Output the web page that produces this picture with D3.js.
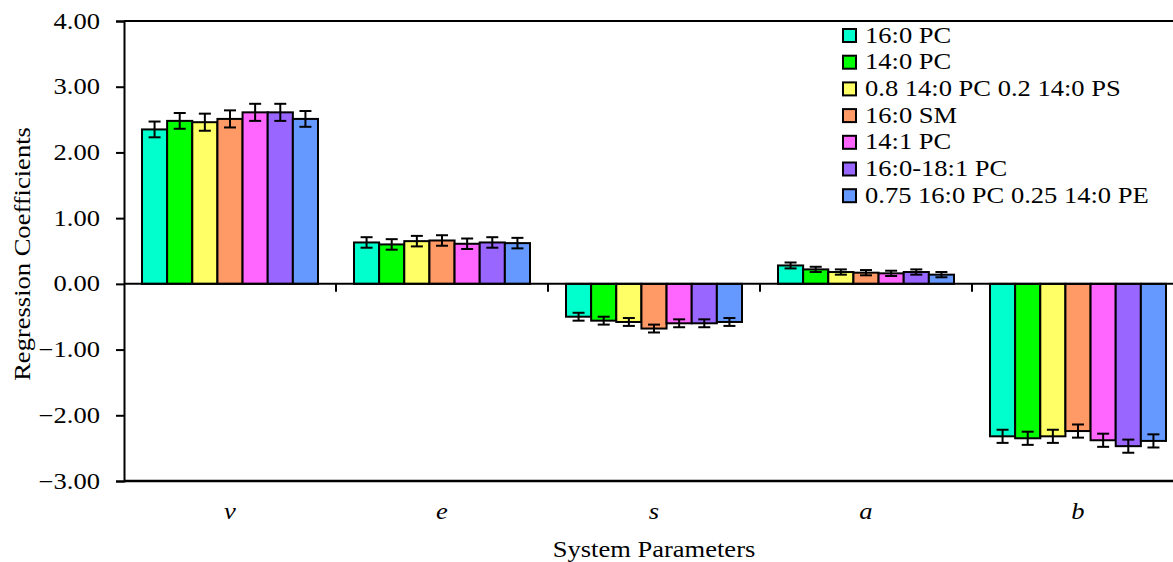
<!DOCTYPE html>
<html>
<head>
<meta charset="utf-8">
<script src="https://cdn.jsdelivr.net/npm/d3@7"></script>
<style>
  html, body { margin: 0; padding: 0; background: #fff; }
  svg text { font-family: "Liberation Serif", "Times New Roman", Tinos, "DejaVu Serif", serif; fill: #000; }
</style>
</head>
<body>
<div id="chart"></div>
<script>
const categories = ['v', 'e', 's', 'a', 'b']
const seriesNames = [
  '16:0 PC',
  '14:0 PC',
  '0.8 14:0 PC 0.2 14:0 PS',
  '16:0 SM',
  '14:1 PC',
  '16:0-18:1 PC',
  '0.75 16:0 PC 0.25 14:0 PE',
]
const colors = ['#00ffcc', '#00ff00', '#ffff66', '#ff9966', '#ff66ff', '#9966ff', '#6699ff']

// one row per series, columns follow categories (v, e, s, a, b)
const values = [
  [2.35, 0.63, -0.50, 0.28, -2.32],
  [2.48, 0.60, -0.56, 0.22, -2.35],
  [2.46, 0.65, -0.58, 0.18, -2.32],
  [2.51, 0.66, -0.68, 0.17, -2.24],
  [2.61, 0.61, -0.60, 0.16, -2.38],
  [2.61, 0.63, -0.60, 0.18, -2.47],
  [2.51, 0.62, -0.58, 0.14, -2.39],
]
const errors = [
  [0.12, 0.08, 0.06, 0.045, 0.10],
  [0.12, 0.08, 0.06, 0.04, 0.10],
  [0.13, 0.08, 0.06, 0.04, 0.10],
  [0.13, 0.08, 0.06, 0.04, 0.10],
  [0.13, 0.08, 0.06, 0.04, 0.10],
  [0.13, 0.08, 0.06, 0.04, 0.10],
  [0.12, 0.08, 0.06, 0.04, 0.10],
]
const yTicks = [4, 3, 2, 1, 0, -1, -2, -3]

const width = 1173, height = 562
const pLeft = 124, pTop = 21, pBottom = 481, pRight = 1184
const fs = 22.3   // font size
const sx = 1.19   // the original picture's text is a bit wider than tall

const svg = d3.select('#chart').append('svg')
  .attr('width', width).attr('height', height)
  .style('display', 'block')

const y = d3.scaleLinear().domain([-3, 4]).range([pBottom, pTop])
const x0 = d3.scaleBand().domain(categories).range([pLeft, pRight])
const x1 = d3.scaleBand().domain(d3.range(seriesNames.length))
  .range([18, x0.bandwidth() - 18])

const rows = []
values.forEach((row, si) => row.forEach((v, ci) => {
  rows.push({ si, cat: categories[ci], v, err: errors[si][ci] })
}))

// frame: top line + left axis
svg.append('line')
  .attr('x1', pLeft).attr('x2', pRight).attr('y1', pTop).attr('y2', pTop)
  .attr('stroke', '#000').attr('stroke-width', 2)

const yAxis = d3.axisLeft(y).tickValues(yTicks).tickFormat(d3.format('.2f')).tickSize(8)
const yg = svg.append('g').attr('transform', `translate(${pLeft},0)`).call(yAxis)
  .attr('font-size', fs)
yg.select('.domain').attr('stroke-width', 2)
yg.selectAll('.tick line').attr('stroke-width', 2)
yg.selectAll('.tick text')
  .attr('fill', '#000')
  .attr('x', -24 / sx)
  .attr('transform', `scale(${sx},1)`)

// bottom line
svg.append('line')
  .attr('x1', pLeft).attr('x2', pRight).attr('y1', pBottom).attr('y2', pBottom)
  .attr('stroke', '#000').attr('stroke-width', 2.5)

// bars
svg.append('g').selectAll('rect').data(rows).join('rect')
  .attr('x', d => x0(d.cat) + x1(d.si))
  .attr('width', x1.bandwidth())
  .attr('y', d => Math.min(y(d.v), y(0)))
  .attr('height', d => Math.abs(y(d.v) - y(0)))
  .attr('fill', d => colors[d.si])
  .attr('stroke', '#000').attr('stroke-width', 2)

// zero line with category separators
svg.append('line')
  .attr('x1', pLeft).attr('x2', pRight).attr('y1', y(0)).attr('y2', y(0))
  .attr('stroke', '#000').attr('stroke-width', 2)
svg.append('g').selectAll('line').data(categories.slice(1)).join('line')
  .attr('x1', d => x0(d)).attr('x2', d => x0(d))
  .attr('y1', y(0)).attr('y2', y(0) + 8)
  .attr('stroke', '#000').attr('stroke-width', 2)

// error bars
const eb = svg.append('g').attr('stroke', '#000').attr('stroke-width', 2)
const cx = d => x0(d.cat) + x1(d.si) + x1.bandwidth() / 2
eb.selectAll('.v').data(rows).join('line')
  .attr('x1', cx).attr('x2', cx)
  .attr('y1', d => y(d.v + d.err)).attr('y2', d => y(d.v - d.err))
eb.selectAll('.t').data(rows).join('line')
  .attr('x1', d => cx(d) - 6).attr('x2', d => cx(d) + 6)
  .attr('y1', d => y(d.v + d.err)).attr('y2', d => y(d.v + d.err))
eb.selectAll('.b').data(rows).join('line')
  .attr('x1', d => cx(d) - 6).attr('x2', d => cx(d) + 6)
  .attr('y1', d => y(d.v - d.err)).attr('y2', d => y(d.v - d.err))

// category labels
svg.append('g').selectAll('text').data(categories).join('text')
  .attr('transform', d => `translate(${x0(d) + x0.bandwidth() / 2},519) scale(${sx},1)`)
  .attr('text-anchor', 'middle')
  .attr('font-size', fs).attr('font-style', 'italic')
  .text(d => d)

// axis titles
svg.append('text')
  .attr('transform', `translate(${(pLeft + pRight) / 2},557) scale(${sx},1)`)
  .attr('text-anchor', 'middle').attr('font-size', fs)
  .text('System Parameters')
svg.append('text')
  .attr('transform', `translate(30,254) rotate(-90) scale(${sx},1)`)
  .attr('text-anchor', 'middle').attr('font-size', fs)
  .text('Regression Coefficients')

// legend
const lg = svg.append('g').selectAll('g').data(seriesNames).join('g')
  .attr('transform', (d, i) => `translate(843,${35 + i * 26.7})`)
lg.append('rect')
  .attr('x', 0).attr('y', -6).attr('width', 13).attr('height', 13)
  .attr('fill', (d, i) => colors[i]).attr('stroke', '#000').attr('stroke-width', 2)
lg.append('text')
  .attr('transform', `translate(22,7.5) scale(${sx},1)`)
  .attr('font-size', fs)
  .text(d => d)
</script>
</body>
</html>
